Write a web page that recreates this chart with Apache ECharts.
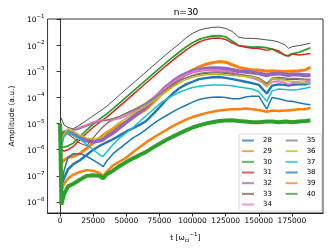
<!DOCTYPE html>
<html><head><meta charset="utf-8">
<script src="https://cdn.jsdelivr.net/npm/echarts@6/dist/echarts.min.js"></script>
<style>html,body{margin:0;padding:0;background:#fff}#c{width:332px;height:249px}</style>
</head><body><div id="c"></div>
<script>
// time grid (t in 1/omega_ci)
const T = [0,1000,3000,6000,10000,15000,20000,25000,30000,32500,35000,40000,45000,50000,55000,60000,65000,70000,75000,80000,85000,90000,95000,100000,105000,110000,115000,120000,125000,130000,135000,140000,145000,150000,156000,160000,165000,170000,172500,175000,180000,185000,189000];
// log10(amplitude)
const sBlack = [-4.9,-4.8,-5.05,-5.15,-5.2,-5.05,-4.88,-4.7,-4.53,-4.44,-4.35,-4.13,-3.9,-3.68,-3.46,-3.24,-3.02,-2.8,-2.58,-2.36,-2.15,-1.95,-1.72,-1.55,-1.43,-1.36,-1.32,-1.31,-1.36,-1.48,-1.7,-1.74,-1.74,-1.76,-1.8,-1.82,-1.88,-2.0,-2.12,-2.06,-2.02,-1.97,-1.92];
const s28 = [-5.0,-7.4,-7.1,-6.75,-6.55,-6.4,-6.2,-6.0,-5.85,-5.78,-5.72,-5.6,-5.45,-5.3,-5.18,-5.05,-4.9,-4.65,-4.38,-4.1,-3.85,-3.65,-3.5,-3.4,-3.3,-3.26,-3.23,-3.22,-3.25,-3.3,-3.35,-3.4,-3.45,-3.52,-3.85,-3.55,-3.5,-3.52,-3.55,-3.52,-3.5,-3.5,-3.45];
const s29 = [-5.1,-6.5,-6.4,-6.3,-6.25,-6.15,-5.95,-5.75,-5.55,-5.45,-5.35,-5.2,-5.05,-4.92,-4.78,-4.6,-4.45,-4.2,-3.95,-3.75,-3.55,-3.32,-3.1,-2.95,-2.83,-2.73,-2.67,-2.63,-2.65,-2.75,-2.85,-2.9,-2.95,-2.95,-3.0,-2.98,-3.0,-3.02,-3.0,-3.0,-2.98,-2.95,-2.85];
const s30 = [-5.2,-5.9,-5.9,-5.85,-5.75,-5.5,-5.25,-5.02,-4.82,-4.73,-4.64,-4.43,-4.21,-3.99,-3.77,-3.55,-3.33,-3.11,-2.89,-2.67,-2.46,-2.26,-2.07,-1.91,-1.78,-1.7,-1.65,-1.64,-1.68,-1.85,-2.02,-2.05,-2.08,-2.07,-2.1,-2.15,-2.28,-2.38,-2.4,-2.33,-2.28,-2.18,-2.1];
const s31 = [-5.3,-6.0,-6.05,-6.0,-5.88,-5.62,-5.37,-5.14,-4.94,-4.85,-4.76,-4.55,-4.33,-4.11,-3.89,-3.67,-3.45,-3.23,-3.01,-2.79,-2.58,-2.38,-2.19,-2.02,-1.88,-1.79,-1.74,-1.73,-1.78,-1.92,-2.02,-2.08,-2.12,-2.13,-2.2,-2.15,-2.22,-2.4,-2.42,-2.33,-2.38,-2.35,-2.32];
const s32 = [-5.2,-5.5,-5.35,-5.3,-5.4,-5.55,-5.65,-5.7,-5.65,-5.6,-5.5,-5.35,-5.15,-4.95,-4.75,-4.55,-4.35,-4.1,-3.85,-3.6,-3.4,-3.22,-3.1,-3.0,-2.95,-2.9,-2.88,-2.88,-2.9,-2.95,-3.0,-3.02,-3.05,-3.08,-3.15,-3.1,-3.08,-3.12,-3.15,-3.12,-3.12,-3.15,-3.15];
const s33 = [-5.2,-5.4,-5.3,-5.4,-5.55,-5.75,-5.85,-5.55,-5.25,-5.12,-5.0,-4.85,-4.72,-4.6,-4.48,-4.35,-4.2,-4.02,-3.85,-3.68,-3.5,-3.36,-3.25,-3.17,-3.12,-3.08,-3.06,-3.06,-3.08,-3.12,-3.16,-3.2,-3.25,-3.3,-3.5,-3.3,-3.28,-3.3,-3.32,-3.3,-3.32,-3.33,-3.35];
const s34 = [-5.3,-5.7,-5.45,-5.3,-5.25,-5.15,-5.05,-4.95,-4.88,-4.87,-4.87,-4.85,-4.8,-4.7,-4.55,-4.4,-4.22,-4.02,-3.82,-3.62,-3.42,-3.25,-3.12,-3.03,-2.97,-2.95,-2.95,-2.96,-3.0,-3.05,-3.12,-3.18,-3.25,-3.35,-3.55,-3.4,-3.38,-3.45,-3.5,-3.45,-3.45,-3.42,-3.35];
const s35 = [-5.0,-5.5,-5.4,-5.3,-5.25,-5.2,-5.1,-5.0,-4.92,-4.9,-4.87,-4.8,-4.72,-4.62,-4.5,-4.37,-4.22,-4.05,-3.87,-3.7,-3.52,-3.38,-3.25,-3.15,-3.08,-3.04,-3.02,-3.02,-3.05,-3.08,-3.12,-3.15,-3.18,-3.25,-3.45,-3.25,-3.22,-3.25,-3.28,-3.27,-3.27,-3.3,-3.3];
const s36 = [-5.1,-5.6,-5.4,-5.2,-5.3,-5.45,-5.55,-5.6,-5.55,-5.5,-5.35,-5.15,-4.95,-4.8,-4.62,-4.47,-4.32,-4.15,-3.95,-3.78,-3.6,-3.45,-3.32,-3.23,-3.17,-3.13,-3.12,-3.12,-3.14,-3.16,-3.18,-3.2,-3.22,-3.3,-3.6,-3.28,-3.3,-3.35,-3.37,-3.38,-3.4,-3.45,-3.48];
const s37 = [-5.1,-5.9,-5.5,-5.35,-5.45,-5.6,-5.8,-6.0,-6.2,-6.25,-6.1,-5.8,-5.55,-5.35,-5.15,-4.92,-4.7,-4.48,-4.25,-4.07,-3.93,-3.8,-3.7,-3.62,-3.57,-3.54,-3.52,-3.52,-3.53,-3.55,-3.6,-3.64,-3.68,-3.78,-4.15,-3.75,-3.68,-3.7,-3.72,-3.72,-3.7,-3.65,-3.6];
const s38 = [-5.0,-7.5,-6.8,-6.3,-6.15,-6.15,-6.25,-6.4,-6.55,-6.65,-6.45,-6.15,-5.95,-5.75,-5.55,-5.4,-5.22,-5.02,-4.85,-4.7,-4.55,-4.42,-4.3,-4.18,-4.08,-4.02,-3.99,-3.98,-4.0,-4.05,-4.05,-3.98,-3.95,-3.95,-4.45,-4.0,-4.05,-4.12,-4.15,-4.15,-4.2,-4.25,-4.28];
const s39 = [-5.0,-7.6,-7.3,-7.1,-6.95,-6.85,-6.78,-6.8,-6.9,-7.0,-6.85,-6.6,-6.45,-6.3,-6.1,-5.9,-5.72,-5.55,-5.4,-5.25,-5.1,-4.97,-4.85,-4.75,-4.67,-4.6,-4.55,-4.5,-4.47,-4.45,-4.45,-4.42,-4.45,-4.48,-4.55,-4.5,-4.52,-4.5,-4.5,-4.48,-4.45,-4.45,-4.4];
const s40 = [-5.0,-8.1,-7.7,-7.4,-7.3,-7.15,-7.0,-6.98,-7.0,-7.1,-6.95,-6.8,-6.62,-6.47,-6.33,-6.2,-6.08,-5.92,-5.77,-5.63,-5.5,-5.38,-5.26,-5.15,-5.07,-5.0,-4.95,-4.9,-4.88,-4.87,-4.9,-4.92,-4.95,-4.95,-4.92,-4.92,-4.95,-4.92,-4.93,-4.95,-4.92,-4.9,-4.88];

const names = ['28','29','30','31','32','33','34','35','36','37','38','39','40'];
const values = [s28,s29,s30,s31,s32,s33,s34,s35,s36,s37,s38,s39,s40];
const colors = ['#1f77b4','#ff7f0e','#2ca02c','#d62728','#9467bd','#8c564b','#e377c2','#7f7f7f','#bcbd22','#17becf','#1f77b4','#ff7f0e','#2ca02c'];
const widths = [2.4,3,1.8,1.5,4,1.2,2,1.2,1.5,1.5,1.5,2.5,4];
const yTicks = [-8,-7,-6,-5,-4,-3,-2,-1];
const xTicks = [0,25000,50000,75000,100000,125000,150000,175000];

const FONT = 'DejaVu Sans';
const chart = echarts.init(document.getElementById('c'), null, {renderer:'canvas'});
const series = names.map((n,i)=>({
  name:n, type:'line', data:T.map((t,j)=>[t, values[i][j]]),
  symbol:'none', showSymbol:false, color:colors[i],
  lineStyle:{width:widths[i], color:colors[i]}, itemStyle:{color:colors[i]},
  silent:true, animation:false
}));
series.push({name:'total', type:'line', data:T.map((t,j)=>[t, sBlack[j]]),
  symbol:'none', showSymbol:false, color:'#000', lineStyle:{width:0.8,color:'#222'}, silent:true, animation:false});

chart.setOption({
  animation:false,
  backgroundColor:'#fff',
  title:{text:'n=30', left:181, top:3, textAlign:'center',
    textStyle:{fontFamily:FONT, fontSize:9, fontWeight:'normal', color:'#000'}},
  grid:{left:40, right:9, top:19, bottom:36, show:true, borderColor:'#000', borderWidth:0.8, backgroundColor:'transparent'},
  xAxis:{type:'value', min:-9450, max:198450,
    axisLine:{show:true, lineStyle:{color:'#000', width:0.8}},
    axisTick:{show:true, customValues:xTicks, length:3.5, lineStyle:{color:'#000', width:0.8}},
    axisLabel:{customValues:xTicks, formatter:v=>String(v), fontFamily:FONT, fontSize:7.5, color:'#000', margin:4},
    splitLine:{show:false},
    name:'{a|t [ω}{sub|ci}{sup|−1}{a|]}', nameLocation:'middle', nameGap:19,
    nameTextStyle:{rich:{
      a:{fontFamily:FONT, fontSize:7.5, color:'#000', lineHeight:12, verticalAlign:'middle'},
      sub:{fontFamily:FONT, fontSize:5.5, color:'#000', lineHeight:6, verticalAlign:'bottom'},
      sup:{fontFamily:FONT, fontSize:5.5, color:'#000', lineHeight:6, verticalAlign:'top'}}}
  },
  yAxis:{type:'value', min:-8.42, max:-1,
    axisLine:{show:true, lineStyle:{color:'#000', width:0.8}},
    axisTick:{show:true, customValues:yTicks, length:3.5, lineStyle:{color:'#000', width:0.8}},
    axisLabel:{customValues:yTicks, margin:3,
      formatter:v=>'{b|10}{s|−'+Math.round(-v)+'}',
      rich:{b:{fontFamily:FONT, fontSize:7.5, color:'#000', lineHeight:11, verticalAlign:'bottom'},
            s:{fontFamily:FONT, fontSize:5.5, color:'#000', lineHeight:6, verticalAlign:'top'}}},
    splitLine:{show:false},
    name:'Amplitude (a.u.)', nameLocation:'middle', nameGap:28, nameRotate:90,
    nameTextStyle:{fontFamily:FONT, fontSize:7.5, color:'#000'}
  },
  legend:{data:names, orient:'vertical', left:239, top:134, height:76,
    icon:'rect', itemWidth:12, itemHeight:2, itemGap:1.67,
    padding:[2,6,2,3], backgroundColor:'rgba(255,255,255,0.85)', borderColor:'#d0d0d0', borderWidth:0.8, borderRadius:2,
    itemStyle:{opacity:0.75},
    formatter:n=>(Number(n)<=34?'{a|'+n+'}':'{b|'+n+'}'),
    textStyle:{fontFamily:FONT, fontSize:7, color:'#000', lineHeight:9, padding:[0,0,0,4],
      rich:{a:{width:21, fontFamily:FONT, fontSize:7, color:'#000', lineHeight:9},
            b:{width:9, fontFamily:FONT, fontSize:7, color:'#000', lineHeight:9}}},
    selectedMode:false
  },
  series:series
});
</script></body></html>
